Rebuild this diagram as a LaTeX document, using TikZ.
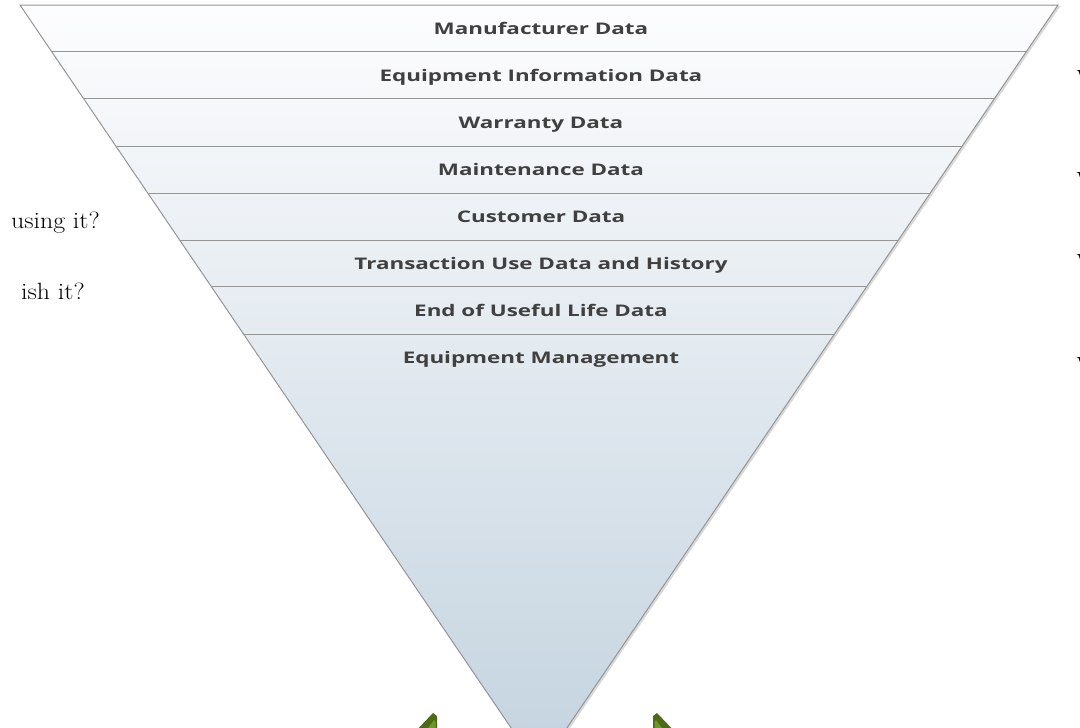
\documentclass[tikz,border=0pt]{standalone}
\usepackage{fontspec}
\newfontfamily\rowfont[FakeStretch=1.4]{Open Sans}
\usetikzlibrary{calc,shadows}
\definecolor{rowtext}{HTML}{404040}
\definecolor{rowline}{HTML}{959595}
\definecolor{toptint}{HTML}{FDFDFE}
\definecolor{bottint}{HTML}{C3D3DF}
\definecolor{leafgreen}{HTML}{4B6C15}
\definecolor{leaflight}{HTML}{6F962A}
\tikzset{
  rowlabel/.style={anchor=base,inner sep=0pt,text=rowtext,
    font=\rowfont\bfseries\fontsize{16}{18}\selectfont},
  rowsep/.style={draw=rowline,line width=1pt},
  sidetext/.style={inner sep=0pt,font=\fontsize{23.5}{26}\selectfont,
    xscale=1.1,transform shape}
}
\begin{document}
\begin{tikzpicture}[x=1pt,y=-1pt]
\useasboundingbox (0,0) rectangle (1080,728);
\clip (0,0) rectangle (1080,728);
\coordinate (tl) at (20,5);
\coordinate (tr) at (1058,5);
\coordinate (apex) at (539,769);
\path[draw=rowline,line width=1pt,top color=toptint,bottom color=bottint,
  drop shadow={shadow xshift=2.5pt,shadow yshift=-1pt,opacity=.3}]
  (tl) -- (tr) -- (apex) -- cycle;
\draw[rowsep] ($(tl)!0.0615!(apex)$) -- ($(tr)!0.0615!(apex)$);
\draw[rowsep] ($(tl)!0.1230!(apex)$) -- ($(tr)!0.1230!(apex)$);
\draw[rowsep] ($(tl)!0.1846!(apex)$) -- ($(tr)!0.1846!(apex)$);
\draw[rowsep] ($(tl)!0.2461!(apex)$) -- ($(tr)!0.2461!(apex)$);
\draw[rowsep] ($(tl)!0.3076!(apex)$) -- ($(tr)!0.3076!(apex)$);
\draw[rowsep] ($(tl)!0.3691!(apex)$) -- ($(tr)!0.3691!(apex)$);
\draw[rowsep] ($(tl)!0.4307!(apex)$) -- ($(tr)!0.4307!(apex)$);
\node[rowlabel] (manufacturer) at (541,34.5) {Manufacturer Data};
\node[rowlabel] (equipinfo) at (541,81.5) {Equipment Information Data};
\node[rowlabel] (warranty) at (541,128.5) {Warranty Data};
\node[rowlabel] (maintenance) at (541,175.5) {Maintenance Data};
\node[rowlabel] (customer) at (541,222.5) {Customer Data};
\node[rowlabel] (transaction) at (541,269.5) {Transaction Use Data and History};
\node[rowlabel] (endlife) at (541,316.5) {End of Useful Life Data};
\node[rowlabel] (management) at (541,363.5) {Equipment Management};
\node[sidetext,anchor=base east] (using) at (100,228) {using it?};
\node[sidetext,anchor=base east] (finish) at (85,299) {ish it?};
\node[sidetext,anchor=base west] (rightone) at (1076.5,86) {W};
\node[sidetext,anchor=base west] (righttwo) at (1076.5,188) {W};
\node[sidetext,anchor=base west] (rightthree) at (1076.5,270) {W};
\node[sidetext,anchor=base west] (rightfour) at (1076.5,373) {W};
\fill[leafgreen] (433,713) -- (437,716) -- (437,735) -- (412,735) -- cycle;
\fill[leaflight] (434,720) -- (435.5,722) -- (435.5,735) -- (423,735) -- cycle;
\fill[leafgreen] (657,713) -- (653,716) -- (653,735) -- (678,735) -- cycle;
\fill[leaflight] (656,720) -- (654.5,722) -- (654.5,735) -- (667,735) -- cycle;
\end{tikzpicture}
\end{document}
